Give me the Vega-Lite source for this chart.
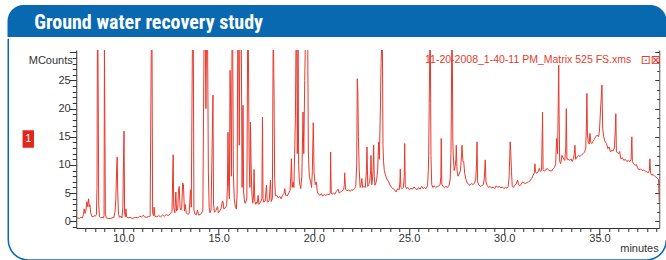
{
  "$schema": "https://vega.github.io/schema/vega-lite/v6.json",
  "padding": {"left": 7.25, "top": 5, "right": 0, "bottom": 0},
  "spacing": 0,
  "config": {"view": {"stroke": null}, "font": "Liberation Sans"},
  "vconcat": [
    {
      "width": 583,
      "height": 32,
      "data": {"values": [{"heading": "Ground water recovery study"}]},
      "layer": [
        {
          "mark": {"type": "rect", "color": "#0869b1", "cornerRadiusTopLeft": 18, "cornerRadiusTopRight": 18},
          "encoding": {
            "x": {"datum": -0.11792, "type": "quantitative", "scale": {"domain": [0, 1], "nice": false, "zero": false}, "axis": null},
            "x2": {"datum": 1.01244}
          }
        },
        {
          "mark": {"type": "text", "align": "left", "baseline": "alphabetic", "dy": 8, "color": "white", "font": "'Roboto Condensed', Roboto, 'Liberation Sans', sans-serif", "fontWeight": "bold", "fontSize": 20},
          "encoding": {
            "x": {"datum": -0.07204, "type": "quantitative", "axis": null},
            "text": {"field": "heading"}
          }
        }
      ]
    },
    {
      "width": 583,
      "height": 178,
      "resolve": {"axis": {"x": "independent", "y": "independent"}},
      "layer": [
        {
          "data": {"values": [
            {"time":7.52,"counts":0.4},{"time":7.6,"counts":0.6},{"time":7.68,"counts":0.5},{"time":7.76,"counts":0.7},{"time":7.84,"counts":0.6},{"time":7.9,"counts":1.2},{"time":7.94,"counts":2.2},{"time":7.98,"counts":1.4},{"time":8.02,"counts":1.8},{"time":8.08,"counts":3.5},{"time":8.12,"counts":2.6},{"time":8.17,"counts":4.0},{"time":8.2,"counts":2.6},{"time":8.24,"counts":2.9},{"time":8.28,"counts":1.5},{"time":8.33,"counts":0.9},{"time":8.4,"counts":0.8},{"time":8.46,"counts":1.0},{"time":8.52,"counts":0.9},{"time":8.58,"counts":1.2},{"time":8.61,"counts":6},{"time":8.63,"counts":31},{"time":8.66,"counts":31},{"time":8.68,"counts":17.6},{"time":8.7,"counts":3},{"time":8.74,"counts":0.8},{"time":8.8,"counts":0.6},{"time":8.87,"counts":0.7},{"time":8.94,"counts":0.6},{"time":8.98,"counts":1.0},{"time":9.0,"counts":31},{"time":9.03,"counts":13.5},{"time":9.05,"counts":1.2},{"time":9.1,"counts":0.6},{"time":9.2,"counts":0.5},{"time":9.3,"counts":0.5},{"time":9.4,"counts":0.6},{"time":9.5,"counts":0.7},{"time":9.56,"counts":1.8},{"time":9.6,"counts":4},{"time":9.64,"counts":9.1},{"time":9.67,"counts":11.4},{"time":9.7,"counts":5},{"time":9.74,"counts":1.2},{"time":9.8,"counts":0.7},{"time":9.87,"counts":0.9},{"time":9.92,"counts":0.6},{"time":9.97,"counts":2.5},{"time":10.0,"counts":10.6},{"time":10.03,"counts":16.0},{"time":10.06,"counts":1.5},{"time":10.1,"counts":0.8},{"time":10.13,"counts":2.2},{"time":10.16,"counts":0.8},{"time":10.25,"counts":0.6},{"time":10.35,"counts":0.7},{"time":10.45,"counts":0.5},{"time":10.55,"counts":0.6},{"time":10.65,"counts":0.7},{"time":10.75,"counts":0.6},{"time":10.85,"counts":0.9},{"time":10.95,"counts":0.8},{"time":11.05,"counts":1.1},{"time":11.1,"counts":0.8},{"time":11.2,"counts":0.7},{"time":11.3,"counts":0.8},{"time":11.4,"counts":0.9},{"time":11.46,"counts":31},{"time":11.5,"counts":31},{"time":11.53,"counts":1.5},{"time":11.58,"counts":1.0},{"time":11.61,"counts":2.5},{"time":11.65,"counts":0.9},{"time":11.75,"counts":0.8},{"time":11.85,"counts":1.0},{"time":11.95,"counts":0.8},{"time":12.05,"counts":1.1},{"time":12.15,"counts":0.9},{"time":12.25,"counts":1.2},{"time":12.35,"counts":1.0},{"time":12.45,"counts":1.3},{"time":12.55,"counts":1.8},{"time":12.59,"counts":8.9},{"time":12.61,"counts":11.8},{"time":12.64,"counts":2.5},{"time":12.7,"counts":1.5},{"time":12.75,"counts":5.2},{"time":12.79,"counts":1.8},{"time":12.85,"counts":2.2},{"time":12.89,"counts":5.5},{"time":12.93,"counts":6.2},{"time":12.97,"counts":2.5},{"time":13.01,"counts":2.0},{"time":13.06,"counts":2.5},{"time":13.11,"counts":6.8},{"time":13.15,"counts":6.5},{"time":13.2,"counts":1.8},{"time":13.24,"counts":3.0},{"time":13.3,"counts":1.5},{"time":13.38,"counts":1.2},{"time":13.45,"counts":1.4},{"time":13.52,"counts":5.6},{"time":13.56,"counts":2.5},{"time":13.62,"counts":31},{"time":13.67,"counts":31},{"time":13.7,"counts":2.0},{"time":13.76,"counts":1.3},{"time":13.83,"counts":1.2},{"time":13.89,"counts":2.0},{"time":13.94,"counts":1.1},{"time":14.02,"counts":1.2},{"time":14.1,"counts":1.4},{"time":14.17,"counts":2.0},{"time":14.2,"counts":16.2},{"time":14.23,"counts":31},{"time":14.3,"counts":31},{"time":14.33,"counts":20},{"time":14.36,"counts":31},{"time":14.42,"counts":31},{"time":14.46,"counts":8.6},{"time":14.5,"counts":2.5},{"time":14.54,"counts":1.5},{"time":14.6,"counts":2.0},{"time":14.64,"counts":10},{"time":14.67,"counts":16},{"time":14.7,"counts":22.4},{"time":14.73,"counts":3},{"time":14.78,"counts":1.6},{"time":14.85,"counts":1.9},{"time":14.94,"counts":2.6},{"time":14.98,"counts":1.5},{"time":15.05,"counts":1.8},{"time":15.12,"counts":2.2},{"time":15.2,"counts":3.6},{"time":15.23,"counts":3.5},{"time":15.27,"counts":2.2},{"time":15.35,"counts":2.4},{"time":15.42,"counts":2.8},{"time":15.46,"counts":6.0},{"time":15.49,"counts":15.8},{"time":15.52,"counts":7.0},{"time":15.56,"counts":4},{"time":15.6,"counts":26.8},{"time":15.63,"counts":20},{"time":15.67,"counts":8},{"time":15.7,"counts":31},{"time":15.74,"counts":31},{"time":15.77,"counts":8.6},{"time":15.82,"counts":4.0},{"time":15.88,"counts":2.5},{"time":15.93,"counts":2.2},{"time":15.97,"counts":5},{"time":16.0,"counts":31},{"time":16.05,"counts":31},{"time":16.08,"counts":13.5},{"time":16.11,"counts":31},{"time":16.16,"counts":31},{"time":16.19,"counts":31},{"time":16.23,"counts":6},{"time":16.28,"counts":20.6},{"time":16.31,"counts":5.2},{"time":16.36,"counts":3.4},{"time":16.4,"counts":3.2},{"time":16.48,"counts":4.0},{"time":16.52,"counts":31},{"time":16.56,"counts":31},{"time":16.6,"counts":11.1},{"time":16.64,"counts":6},{"time":16.67,"counts":17.6},{"time":16.7,"counts":10.6},{"time":16.74,"counts":5.2},{"time":16.79,"counts":3.2},{"time":16.83,"counts":4.5},{"time":16.86,"counts":9.2},{"time":16.9,"counts":3.5},{"time":16.95,"counts":3.0},{"time":16.99,"counts":3.4},{"time":17.03,"counts":3.2},{"time":17.07,"counts":4.6},{"time":17.12,"counts":3.0},{"time":17.2,"counts":3.4},{"time":17.27,"counts":4},{"time":17.3,"counts":18.5},{"time":17.33,"counts":4},{"time":17.37,"counts":3.4},{"time":17.44,"counts":3.6},{"time":17.51,"counts":6.4},{"time":17.55,"counts":3.5},{"time":17.59,"counts":3.4},{"time":17.66,"counts":3.8},{"time":17.72,"counts":7.3},{"time":17.76,"counts":3.5},{"time":17.82,"counts":4.0},{"time":17.86,"counts":31},{"time":17.88,"counts":31},{"time":17.91,"counts":22.1},{"time":17.94,"counts":7.6},{"time":17.98,"counts":4.5},{"time":18.05,"counts":4.6},{"time":18.12,"counts":4.2},{"time":18.21,"counts":4.4},{"time":18.28,"counts":4.0},{"time":18.35,"counts":4.6},{"time":18.44,"counts":5.0},{"time":18.47,"counts":5.8},{"time":18.52,"counts":4.6},{"time":18.6,"counts":4.5},{"time":18.68,"counts":5.0},{"time":18.75,"counts":5.5},{"time":18.79,"counts":8},{"time":18.82,"counts":11.1},{"time":18.86,"counts":6},{"time":18.91,"counts":7.0},{"time":18.95,"counts":6},{"time":18.99,"counts":12},{"time":19.03,"counts":18.2},{"time":19.06,"counts":31},{"time":19.1,"counts":31},{"time":19.13,"counts":12},{"time":19.17,"counts":31},{"time":19.2,"counts":9.9},{"time":19.24,"counts":7},{"time":19.31,"counts":5.8},{"time":19.37,"counts":8},{"time":19.43,"counts":19.4},{"time":19.47,"counts":12},{"time":19.52,"counts":25},{"time":19.55,"counts":31},{"time":19.6,"counts":31},{"time":19.64,"counts":31},{"time":19.68,"counts":31},{"time":19.71,"counts":12.3},{"time":19.76,"counts":8},{"time":19.83,"counts":7.0},{"time":19.88,"counts":6},{"time":19.92,"counts":9},{"time":19.97,"counts":17.5},{"time":20.01,"counts":8.6},{"time":20.07,"counts":6.5},{"time":20.13,"counts":7.0},{"time":20.18,"counts":5.2},{"time":20.25,"counts":4.8},{"time":20.33,"counts":4.6},{"time":20.39,"counts":4.9},{"time":20.46,"counts":4.5},{"time":20.55,"counts":4.7},{"time":20.63,"counts":4.6},{"time":20.72,"counts":4.8},{"time":20.8,"counts":4.7},{"time":20.86,"counts":5},{"time":20.88,"counts":12.3},{"time":20.91,"counts":5},{"time":20.96,"counts":4.8},{"time":21.03,"counts":5.0},{"time":21.1,"counts":4.8},{"time":21.18,"counts":5.3},{"time":21.27,"counts":5.7},{"time":21.33,"counts":5.0},{"time":21.4,"counts":5.2},{"time":21.48,"counts":5.4},{"time":21.56,"counts":5.6},{"time":21.6,"counts":6.5},{"time":21.62,"counts":8.6},{"time":21.66,"counts":5.7},{"time":21.74,"counts":5.4},{"time":21.82,"counts":5.6},{"time":21.9,"counts":5.3},{"time":21.98,"counts":5.6},{"time":22.06,"counts":5.5},{"time":22.14,"counts":5.8},{"time":22.2,"counts":6.2},{"time":22.25,"counts":10},{"time":22.28,"counts":25.3},{"time":22.31,"counts":23.0},{"time":22.34,"counts":15},{"time":22.38,"counts":9.3},{"time":22.43,"counts":6.0},{"time":22.48,"counts":6.4},{"time":22.52,"counts":7.6},{"time":22.56,"counts":6.0},{"time":22.63,"counts":6.2},{"time":22.7,"counts":6.0},{"time":22.76,"counts":9},{"time":22.79,"counts":13.2},{"time":22.83,"counts":6.2},{"time":22.88,"counts":6.5},{"time":22.93,"counts":7},{"time":22.98,"counts":9},{"time":23.0,"counts":11.7},{"time":23.04,"counts":6.5},{"time":23.08,"counts":7.5},{"time":23.11,"counts":9},{"time":23.14,"counts":13.5},{"time":23.17,"counts":8},{"time":23.21,"counts":6.4},{"time":23.26,"counts":6.8},{"time":23.3,"counts":7.6},{"time":23.35,"counts":9},{"time":23.4,"counts":14.1},{"time":23.44,"counts":11},{"time":23.49,"counts":19.4},{"time":23.53,"counts":28},{"time":23.56,"counts":31},{"time":23.6,"counts":31},{"time":23.63,"counts":13.5},{"time":23.66,"counts":10.6},{"time":23.7,"counts":9},{"time":23.76,"counts":8.2},{"time":23.84,"counts":7.5},{"time":23.93,"counts":7.0},{"time":24.0,"counts":6.4},{"time":24.08,"counts":6.0},{"time":24.16,"counts":5.8},{"time":24.24,"counts":5.6},{"time":24.32,"counts":5.2},{"time":24.4,"counts":5.8},{"time":24.48,"counts":5.6},{"time":24.52,"counts":7},{"time":24.54,"counts":9.3},{"time":24.57,"counts":6.0},{"time":24.63,"counts":5.8},{"time":24.7,"counts":6.0},{"time":24.75,"counts":8},{"time":24.77,"counts":13.8},{"time":24.8,"counts":6.4},{"time":24.86,"counts":5.8},{"time":24.94,"counts":6.0},{"time":25.02,"counts":5.6},{"time":25.1,"counts":5.9},{"time":25.18,"counts":5.7},{"time":25.26,"counts":6.1},{"time":25.34,"counts":5.8},{"time":25.42,"counts":5.6},{"time":25.5,"counts":6.0},{"time":25.58,"counts":5.7},{"time":25.66,"counts":6.2},{"time":25.74,"counts":5.8},{"time":25.82,"counts":6.0},{"time":25.9,"counts":5.8},{"time":25.97,"counts":6.3},{"time":26.01,"counts":9},{"time":26.03,"counts":11.7},{"time":26.06,"counts":20.9},{"time":26.09,"counts":31},{"time":26.12,"counts":31},{"time":26.15,"counts":11.7},{"time":26.19,"counts":6.5},{"time":26.25,"counts":6.0},{"time":26.32,"counts":6.3},{"time":26.4,"counts":6.0},{"time":26.48,"counts":6.2},{"time":26.56,"counts":6.3},{"time":26.63,"counts":6.5},{"time":26.67,"counts":8},{"time":26.69,"counts":14.7},{"time":26.72,"counts":6.6},{"time":26.78,"counts":6.2},{"time":26.86,"counts":6.0},{"time":26.94,"counts":6.2},{"time":27.02,"counts":6.0},{"time":27.1,"counts":6.4},{"time":27.16,"counts":7.5},{"time":27.2,"counts":12},{"time":27.22,"counts":19.1},{"time":27.24,"counts":31},{"time":27.27,"counts":31},{"time":27.3,"counts":14},{"time":27.32,"counts":11.7},{"time":27.37,"counts":9},{"time":27.43,"counts":9.9},{"time":27.46,"counts":11},{"time":27.48,"counts":13.5},{"time":27.52,"counts":9},{"time":27.57,"counts":8.0},{"time":27.63,"counts":8.4},{"time":27.7,"counts":9},{"time":27.76,"counts":12},{"time":27.78,"counts":13.5},{"time":27.83,"counts":10.6},{"time":27.87,"counts":10.6},{"time":27.92,"counts":8.5},{"time":27.99,"counts":7.4},{"time":28.05,"counts":6.8},{"time":28.12,"counts":6.6},{"time":28.2,"counts":6.4},{"time":28.28,"counts":6.7},{"time":28.36,"counts":6.5},{"time":28.44,"counts":6.8},{"time":28.5,"counts":7.5},{"time":28.54,"counts":10},{"time":28.57,"counts":14.1},{"time":28.6,"counts":7.0},{"time":28.66,"counts":6.5},{"time":28.74,"counts":6.2},{"time":28.82,"counts":6.3},{"time":28.9,"counts":6.5},{"time":28.95,"counts":7.5},{"time":29.0,"counts":10.9},{"time":29.04,"counts":7.0},{"time":29.1,"counts":6.4},{"time":29.18,"counts":6.0},{"time":29.26,"counts":6.2},{"time":29.34,"counts":5.9},{"time":29.42,"counts":6.1},{"time":29.5,"counts":5.8},{"time":29.58,"counts":6.3},{"time":29.66,"counts":6.0},{"time":29.74,"counts":6.2},{"time":29.82,"counts":5.9},{"time":29.9,"counts":6.1},{"time":29.98,"counts":5.8},{"time":30.06,"counts":6.0},{"time":30.14,"counts":5.9},{"time":30.2,"counts":6.1},{"time":30.25,"counts":7.5},{"time":30.29,"counts":11.7},{"time":30.31,"counts":14.1},{"time":30.34,"counts":12.3},{"time":30.38,"counts":8.8},{"time":30.42,"counts":6.2},{"time":30.48,"counts":6.0},{"time":30.55,"counts":6.4},{"time":30.62,"counts":6.6},{"time":30.7,"counts":7.3},{"time":30.74,"counts":6.6},{"time":30.8,"counts":6.3},{"time":30.88,"counts":6.5},{"time":30.96,"counts":7.0},{"time":31.04,"counts":6.8},{"time":31.12,"counts":6.7},{"time":31.2,"counts":6.9},{"time":31.28,"counts":7.0},{"time":31.36,"counts":7.2},{"time":31.44,"counts":7.6},{"time":31.52,"counts":8.2},{"time":31.58,"counts":8.6},{"time":31.61,"counts":10.2},{"time":31.64,"counts":8.8},{"time":31.7,"counts":8.5},{"time":31.78,"counts":8.8},{"time":31.84,"counts":9.4},{"time":31.9,"counts":8.8},{"time":31.96,"counts":9.0},{"time":32.0,"counts":17},{"time":32.01,"counts":19.4},{"time":32.04,"counts":9.2},{"time":32.1,"counts":8.9},{"time":32.18,"counts":9.1},{"time":32.25,"counts":9.4},{"time":32.32,"counts":9.1},{"time":32.4,"counts":9.0},{"time":32.48,"counts":8.9},{"time":32.56,"counts":9.3},{"time":32.64,"counts":9.6},{"time":32.7,"counts":10.2},{"time":32.75,"counts":14.7},{"time":32.8,"counts":12},{"time":32.84,"counts":22},{"time":32.86,"counts":27.7},{"time":32.88,"counts":19},{"time":32.91,"counts":10.6},{"time":32.96,"counts":10.2},{"time":33.03,"counts":11.7},{"time":33.1,"counts":11.2},{"time":33.18,"counts":10.8},{"time":33.23,"counts":13},{"time":33.26,"counts":20.0},{"time":33.29,"counts":11},{"time":33.35,"counts":11.1},{"time":33.42,"counts":10.8},{"time":33.5,"counts":11.1},{"time":33.57,"counts":10.6},{"time":33.64,"counts":11.2},{"time":33.68,"counts":12},{"time":33.71,"counts":13.5},{"time":33.75,"counts":11},{"time":33.82,"counts":11.4},{"time":33.9,"counts":11.7},{"time":33.98,"counts":11.5},{"time":34.06,"counts":11.8},{"time":34.14,"counts":12.0},{"time":34.22,"counts":12.3},{"time":34.28,"counts":13},{"time":34.32,"counts":18},{"time":34.34,"counts":22.7},{"time":34.37,"counts":15.3},{"time":34.41,"counts":14.1},{"time":34.46,"counts":13.7},{"time":34.5,"counts":15.6},{"time":34.55,"counts":14.0},{"time":34.6,"counts":13.8},{"time":34.66,"counts":14.2},{"time":34.72,"counts":14.5},{"time":34.8,"counts":15.0},{"time":34.88,"counts":15.3},{"time":34.95,"counts":15.0},{"time":35.0,"counts":16},{"time":35.05,"counts":19.4},{"time":35.13,"counts":24.2},{"time":35.17,"counts":16.5},{"time":35.22,"counts":15.0},{"time":35.3,"counts":14.1},{"time":35.37,"counts":13.8},{"time":35.44,"counts":12.9},{"time":35.5,"counts":13.2},{"time":35.58,"counts":12.3},{"time":35.64,"counts":12.6},{"time":35.72,"counts":12.5},{"time":35.78,"counts":13},{"time":35.83,"counts":16},{"time":35.86,"counts":19.1},{"time":35.89,"counts":12.3},{"time":35.94,"counts":12.2},{"time":36.0,"counts":12.0},{"time":36.06,"counts":12.4},{"time":36.12,"counts":11.1},{"time":36.2,"counts":11.3},{"time":36.28,"counts":10.8},{"time":36.36,"counts":11.0},{"time":36.44,"counts":10.6},{"time":36.52,"counts":10.8},{"time":36.6,"counts":10.6},{"time":36.66,"counts":11},{"time":36.7,"counts":15.0},{"time":36.73,"counts":10.6},{"time":36.8,"counts":10.2},{"time":36.87,"counts":9.9},{"time":36.94,"counts":10.1},{"time":37.0,"counts":9.5},{"time":37.08,"counts":9.1},{"time":37.16,"counts":9.3},{"time":37.24,"counts":9.0},{"time":37.32,"counts":9.1},{"time":37.4,"counts":8.9},{"time":37.48,"counts":8.8},{"time":37.56,"counts":8.6},{"time":37.62,"counts":9},{"time":37.65,"counts":11.1},{"time":37.68,"counts":8.6},{"time":37.75,"counts":8.2},{"time":37.82,"counts":8.3},{"time":37.9,"counts":8.0},{"time":37.98,"counts":7.8},{"time":38.06,"counts":7.6},{"time":38.1,"counts":7.4},{"time":38.14,"counts":3.4}
          ]},
          "mark": {"type": "line", "color": "#e8392d", "strokeWidth": 1, "clip": true},
          "encoding": {
            "x": {
              "field": "time", "type": "quantitative",
              "scale": {"domain": [7.52, 38.14], "nice": false, "zero": false},
              "axis": {
                "orient": "bottom",
                "values": [8,8.5,9,9.5,10,10.5,11,11.5,12,12.5,13,13.5,14,14.5,15,15.5,16,16.5,17,17.5,18,18.5,19,19.5,20,20.5,21,21.5,22,22.5,23,23.5,24,24.5,25,25.5,26,26.5,27,27.5,28,28.5,29,29.5,30,30.5,31,31.5,32,32.5,33,33.5,34,34.5,35,35.5,36,36.5,37,37.5,38],
                "labelExpr": "datum.value % 5 === 0 ? datum.label : ''",
                "tickSize": {"condition": {"test": "datum.value % 5 === 0", "value": 7}, "value": 3.5},
                "labelPadding": -2.5, "labelFlush": false, "labelOverlap": false, "grid": false,
                "domainColor": "#333333", "tickColor": "#333333", "labelColor": "#333333",
                "labelFontSize": 11, "labelFont": "Liberation Sans",
                "title": "minutes", "titleX": 582, "titleY": 20, "titleAlign": "right", "titleBaseline": "middle",
                "titleFontWeight": "normal", "titleFontSize": 11, "titleColor": "#333333", "titleFont": "Liberation Sans"
              }
            },
            "y": {
              "field": "counts", "type": "quantitative",
              "scale": {"domain": [-1.19, 30.4], "nice": false, "zero": false},
              "axis": {
                "orient": "left",
                "values": [-1,0,1,2,3,4,5,6,7,8,9,10,11,12,13,14,15,16,17,18,19,20,21,22,23,24,25,26,27,28,29,30],
                "labelExpr": "datum.value % 5 === 0 && datum.value < 30 ? datum.label : ''",
                "tickSize": {"condition": {"test": "datum.value % 5 === 0", "value": 7}, "value": 4},
                "labelPadding": -1, "labelOverlap": false, "labelBaseline": "middle", "grid": false,
                "domainColor": "#333333", "tickColor": "#333333", "labelColor": "#333333",
                "labelFontSize": 11, "labelFont": "Liberation Sans",
                "title": "MCounts", "titleAngle": 0, "titleX": -4, "titleY": 10, "titleAlign": "right", "titleBaseline": "middle",
                "titleFontWeight": "normal", "titleFontSize": 11, "titleColor": "#333333", "titleFont": "Liberation Sans"
              }
            }
          }
        },
        {
          "data": {"values": [{"file": "11-20-2008_1-40-11 PM_Matrix 525 FS.xms"}]},
          "mark": {"type": "text", "align": "right", "baseline": "middle", "color": "#e8392d", "fontSize": 10.5, "font": "Liberation Sans"},
          "encoding": {
            "x": {"datum": 36.67, "type": "quantitative", "axis": null},
            "y": {
              "datum": 28.63, "type": "quantitative",
              "axis": {
                "orient": "right",
                "values": [0,1.6667,3.3333,5,6.6667,8.3333,10,11.6667,13.3333,15,16.6667,18.3333,20,21.6667,23.3333,25,26.6667,28.3333,30],
                "labels": false, "title": null, "grid": false,
                "tickSize": {"condition": {"test": "abs(datum.value % 5) < 0.01", "value": -4.5}, "value": -2.5},
                "domainColor": "#555555", "tickColor": "#333333"
              }
            },
            "text": {"field": "file"}
          }
        },
        {
          "data": {"values": [{"icons": "⊡⊠"}]},
          "mark": {"type": "text", "align": "left", "baseline": "middle", "color": "#e8392d", "fontSize": 12, "font": "DejaVu Sans"},
          "encoding": {
            "x": {"datum": 37.17, "type": "quantitative", "axis": null},
            "y": {"datum": 28.63, "type": "quantitative", "axis": null},
            "text": {"field": "icons"}
          }
        },
        {
          "data": {"values": [{"box": "trace 1"}]},
          "mark": {"type": "rect", "color": "#e3261c"},
          "encoding": {
            "x": {"datum": 4.70, "type": "quantitative", "axis": null},
            "x2": {"datum": 5.30},
            "y": {"datum": 16.15, "type": "quantitative", "axis": null},
            "y2": {"datum": 13.06}
          }
        },
        {
          "data": {"values": [{"trace": "1"}]},
          "mark": {"type": "text", "align": "center", "baseline": "middle", "color": "white", "fontSize": 11, "font": "Liberation Sans"},
          "encoding": {
            "x": {"datum": 5.0, "type": "quantitative", "axis": null},
            "y": {"datum": 14.6, "type": "quantitative", "axis": null},
            "text": {"field": "trace"}
          }
        },
        {
          "data": {"values": [{"part": "left border"}]},
          "mark": {"type": "rule", "color": "#0869b1", "strokeWidth": 1.5},
          "encoding": {
            "x": {"datum": 3.949, "type": "quantitative", "axis": null},
            "y": {"datum": 32.40, "type": "quantitative", "axis": null},
            "y2": {"datum": -3.32}
          }
        },
        {
          "data": {"values": [{"part": "bottom-left corner"}]},
          "mark": {"type": "arc", "color": "#0869b1", "theta": 3.14159, "theta2": 4.71239, "radius": 20.75, "radius2": 19.25},
          "encoding": {
            "x": {"datum": 5.0, "type": "quantitative", "axis": null},
            "y": {"datum": -3.32, "type": "quantitative", "axis": null}
          }
        },
        {
          "data": {"values": [{"part": "bottom border"}]},
          "mark": {"type": "rule", "color": "#0869b1", "strokeWidth": 1.5},
          "encoding": {
            "x": {"datum": 5.0, "type": "quantitative", "axis": null},
            "x2": {"datum": 37.46},
            "y": {"datum": -6.87, "type": "quantitative", "axis": null}
          }
        },
        {
          "data": {"values": [{"part": "bottom-right corner"}]},
          "mark": {"type": "arc", "color": "#0869b1", "theta": 1.5708, "theta2": 3.14159, "radius": 20.75, "radius2": 19.25},
          "encoding": {
            "x": {"datum": 37.46, "type": "quantitative", "axis": null},
            "y": {"datum": -3.32, "type": "quantitative", "axis": null}
          }
        }
      ]
    }
  ]
}
